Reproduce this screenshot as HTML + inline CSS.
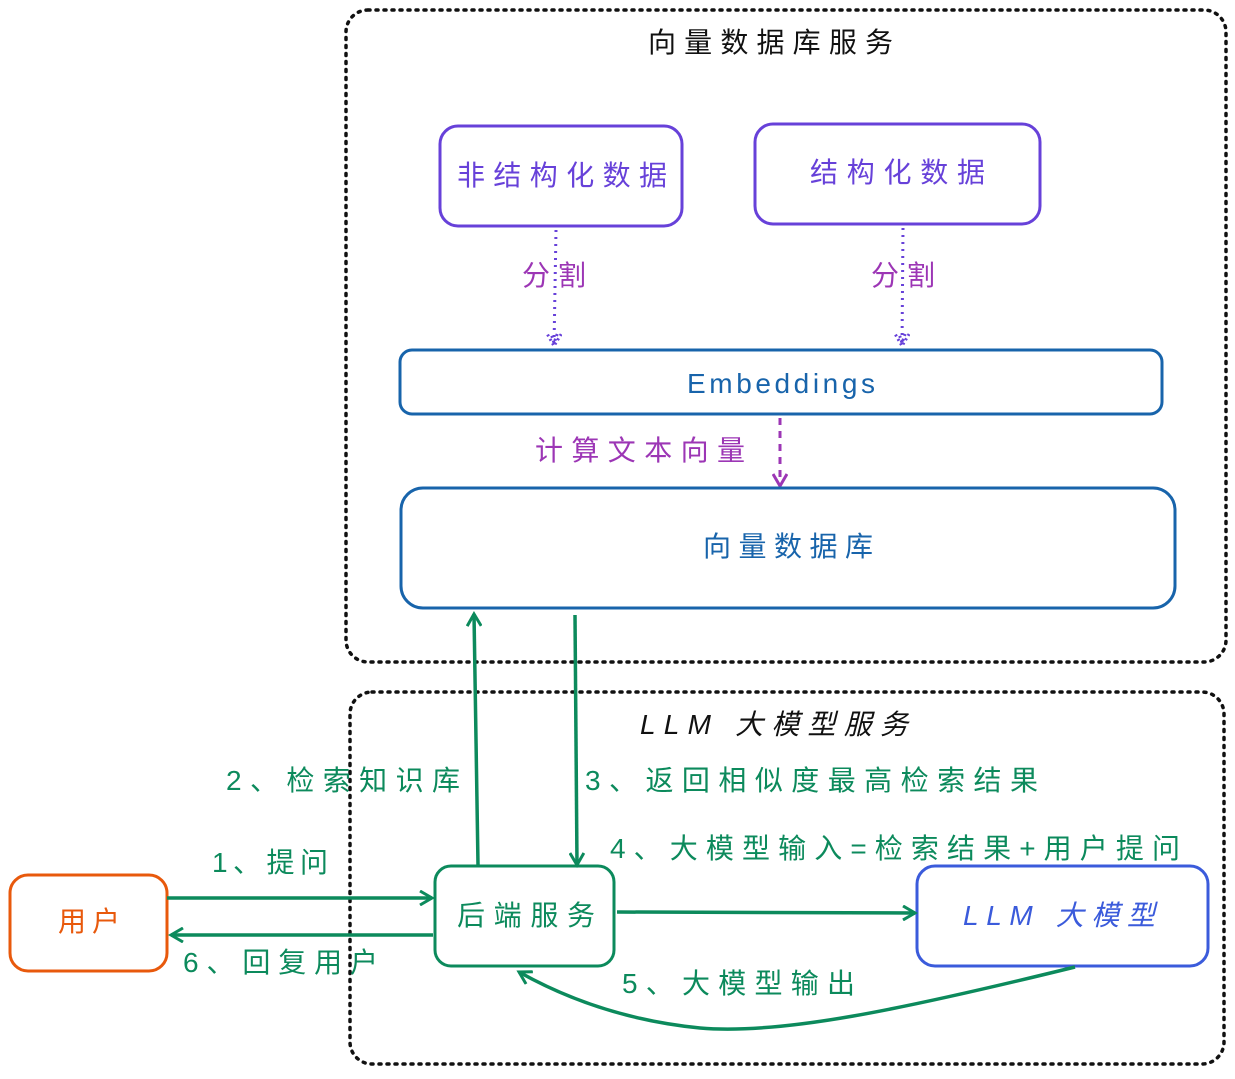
<!DOCTYPE html>
<html><head><meta charset="utf-8"><style>
html,body{margin:0;padding:0;background:#fff;}
svg text{font-family:"Liberation Sans","Noto Sans CJK SC",sans-serif;}
</style></head><body>
<svg width="1235" height="1074" viewBox="0 0 1235 1074" xmlns="http://www.w3.org/2000/svg">
<defs>
<marker id="ag" markerWidth="16" markerHeight="16" refX="13" refY="8" orient="auto" markerUnits="userSpaceOnUse"><path d="M1,1 L13,8 L1,15" fill="none" stroke="#0c8a5c" stroke-width="3"/></marker>
<marker id="ap" markerWidth="16" markerHeight="16" refX="13" refY="8" orient="auto" markerUnits="userSpaceOnUse"><path d="M1,1 L13,8 L1,15 M1,5 L10,8 L1,11" fill="none" stroke="#6741d9" stroke-width="3" stroke-dasharray="2 3"/></marker>
<marker id="am" markerWidth="16" markerHeight="16" refX="13" refY="8" orient="auto" markerUnits="userSpaceOnUse"><path d="M1,1 L13,8 L1,15" fill="none" stroke="#9c36b5" stroke-width="3"/></marker>
</defs>
<rect x="346" y="10" width="880" height="652" rx="22" fill="none" stroke="#111" stroke-width="3.5" stroke-dasharray="2 6" stroke-linecap="round"/>
<text x="648" y="52" font-size="28" textLength="245" lengthAdjust="spacing" fill="#111">向量数据库服务</text>
<rect x="440" y="126" width="242" height="100" rx="18" fill="none" stroke="#6741d9" stroke-width="3"/>
<text x="457" y="185" font-size="28" textLength="210" lengthAdjust="spacing" fill="#6741d9">非结构化数据</text>
<rect x="755" y="124" width="285" height="100" rx="18" fill="none" stroke="#6741d9" stroke-width="3"/>
<text x="810" y="182" font-size="28" textLength="175" lengthAdjust="spacing" fill="#6741d9">结构化数据</text>
<line x1="556" y1="230" x2="554" y2="346" stroke="#6741d9" stroke-width="3" stroke-dasharray="2 5" marker-end="url(#ap)"/>
<line x1="903" y1="228" x2="902" y2="346" stroke="#6741d9" stroke-width="3" stroke-dasharray="2 5" marker-end="url(#ap)"/>
<text x="522" y="285" font-size="28" textLength="64" lengthAdjust="spacing" fill="#9c36b5">分割</text>
<text x="871" y="285" font-size="28" textLength="64" lengthAdjust="spacing" fill="#9c36b5">分割</text>
<rect x="400" y="350" width="762" height="64" rx="12" fill="none" stroke="#1864ab" stroke-width="3"/>
<text x="687" y="393" font-size="28" textLength="188" lengthAdjust="spacing" fill="#1864ab">Embeddings</text>
<text x="535" y="460" font-size="28" textLength="210" lengthAdjust="spacing" fill="#9c36b5">计算文本向量</text>
<line x1="780" y1="418" x2="780" y2="486" stroke="#9c36b5" stroke-width="3" stroke-dasharray="7 6" marker-end="url(#am)"/>
<rect x="401" y="488" width="774" height="120" rx="22" fill="none" stroke="#1864ab" stroke-width="3"/>
<text x="703" y="556" font-size="28" textLength="170" lengthAdjust="spacing" fill="#1864ab">向量数据库</text>
<rect x="350" y="692" width="874" height="372" rx="22" fill="none" stroke="#111" stroke-width="3.5" stroke-dasharray="2 6" stroke-linecap="round"/>
<text x="640" y="734" font-size="28" textLength="268" lengthAdjust="spacing" fill="#111" font-style="italic">LLM 大模型服务</text>
<line x1="478" y1="865" x2="474" y2="614" stroke="#0c8a5c" stroke-width="3.5" marker-end="url(#ag)"/>
<line x1="575" y1="615" x2="577" y2="865" stroke="#0c8a5c" stroke-width="3.5" marker-end="url(#ag)"/>
<text x="226" y="790" font-size="28" textLength="234" lengthAdjust="spacing" fill="#0c8a5c">2、检索知识库</text>
<text x="585" y="790" font-size="28" textLength="453" lengthAdjust="spacing" fill="#0c8a5c">3、返回相似度最高检索结果</text>
<text x="610" y="858" font-size="28" textLength="570" lengthAdjust="spacing" fill="#0c8a5c">4、大模型输入=检索结果+用户提问</text>
<rect x="10" y="875" width="157" height="96" rx="18" fill="none" stroke="#e8590c" stroke-width="3"/>
<text x="58" y="931" font-size="28" textLength="62" lengthAdjust="spacing" fill="#e8590c">用户</text>
<rect x="435" y="866" width="179" height="100" rx="16" fill="none" stroke="#0c8a5c" stroke-width="3"/>
<text x="457" y="925" font-size="28" textLength="138" lengthAdjust="spacing" fill="#0c8a5c">后端服务</text>
<rect x="917" y="866" width="291" height="100" rx="18" fill="none" stroke="#3b5bdb" stroke-width="3"/>
<text x="963" y="925" font-size="28" textLength="192" lengthAdjust="spacing" fill="#3b5bdb" font-style="italic">LLM 大模型</text>
<line x1="167" y1="898" x2="432" y2="898" stroke="#0c8a5c" stroke-width="3.5" marker-end="url(#ag)"/>
<text x="212" y="872" font-size="28" textLength="116" lengthAdjust="spacing" fill="#0c8a5c">1、提问</text>
<line x1="433" y1="935" x2="171" y2="935" stroke="#0c8a5c" stroke-width="3.5" marker-end="url(#ag)"/>
<text x="183" y="972" font-size="28" textLength="195" lengthAdjust="spacing" fill="#0c8a5c">6、回复用户</text>
<line x1="617" y1="912" x2="915" y2="913" stroke="#0c8a5c" stroke-width="3.5" marker-end="url(#ag)"/>
<path d="M1075,967 C900,1010 780,1035 700,1028 C620,1020 560,995 519,972" fill="none" stroke="#0c8a5c" stroke-width="3.5" marker-end="url(#ag)"/>
<text x="622" y="993" font-size="28" textLength="233" lengthAdjust="spacing" fill="#0c8a5c">5、大模型输出</text>
</svg>
</body></html>
